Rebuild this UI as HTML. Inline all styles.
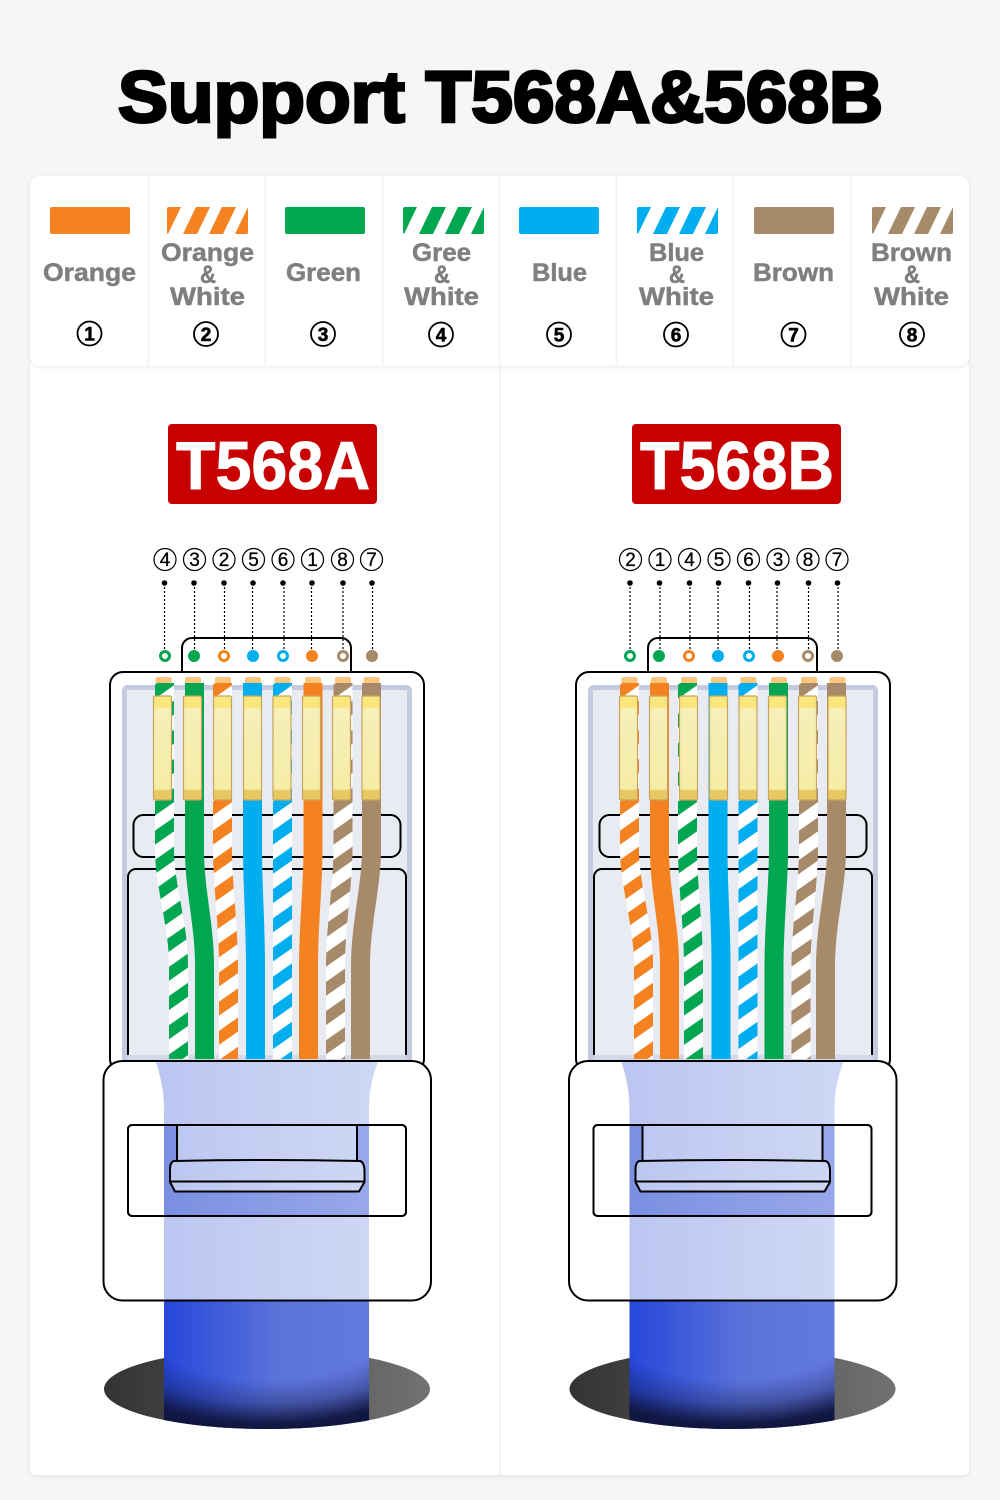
<!DOCTYPE html>
<html><head><meta charset="utf-8"><style>
html,body{margin:0;padding:0;background:#f6f6f6}
svg{display:block}
text{font-family:"Liberation Sans",sans-serif}
.l{font-size:25px;font-weight:bold;fill:#7f7f7f;stroke:#7f7f7f;stroke-width:.5}
.n{font-size:19px;font-weight:bold;text-anchor:middle;stroke:#000;stroke-width:.6}
.m{font-size:19px;text-anchor:middle;stroke:#000;stroke-width:.3}
</style></head><body>
<svg xmlns="http://www.w3.org/2000/svg" width="1000" height="1500" viewBox="0 0 1000 1500">
<defs>
<filter id="sh" x="-3%" y="-3%" width="106%" height="108%"><feDropShadow dx="0" dy="1" stdDeviation="2.5" flood-color="#000" flood-opacity=".09"/></filter>
<pattern id="pg" patternUnits="userSpaceOnUse" width="60" height="29.2" patternTransform="translate(0 692) skewY(-35)"><rect width="60" height="29.2" fill="#00a650"/><rect width="60" height="15.2" fill="#fff"/></pattern>
<pattern id="po" patternUnits="userSpaceOnUse" width="60" height="29.2" patternTransform="translate(0 692) skewY(-35)"><rect width="60" height="29.2" fill="#f58220"/><rect width="60" height="15.2" fill="#fff"/></pattern>
<pattern id="pb" patternUnits="userSpaceOnUse" width="60" height="29.2" patternTransform="translate(0 692) skewY(-35)"><rect width="60" height="29.2" fill="#00aeef"/><rect width="60" height="15.2" fill="#fff"/></pattern>
<pattern id="pn" patternUnits="userSpaceOnUse" width="60" height="29.2" patternTransform="translate(0 692) skewY(-35)"><rect width="60" height="29.2" fill="#a68a69"/><rect width="60" height="15.2" fill="#fff"/></pattern>
<clipPath id="swc"><rect width="81" height="27" rx="2"/></clipPath>
<g id="sw" clip-path="url(#swc)"><polygon points="-13,27 1,27 14,0 0,0"/><polygon points="16,27 30,27 43,0 29,0"/><polygon points="42,27 56,27 69,0 55,0"/><polygon points="68,27 82,27 95,0 81,0"/></g>
<path id="w1" d="M0 683V850C0 885 14 925 14 965V1059" fill="none" stroke-width="19"/>
<path id="w2" d="M0 683V850C0 890 10 925 10 965V1059" fill="none" stroke-width="19"/>
<path id="w3" d="M0 683V850C0 885 6 925 6 965V1059" fill="none" stroke-width="19"/>
<path id="w4" d="M0 683V850C0 885 3 925 3 965V1059" fill="none" stroke-width="19"/>
<path id="w5" d="M0 683V1059" fill="none" stroke-width="19"/>
<path id="w6" d="M0 683V850C0 885 -4.5 925 -4.5 965V1059" fill="none" stroke-width="19"/>
<path id="w7" d="M0 683V850C0 885 -7.5 925 -7.5 965V1059" fill="none" stroke-width="19"/>
<path id="w8" d="M0 683V850C0 885 -11 925 -11 965V1059" fill="none" stroke-width="19"/>
<g id="base">
<path d="M182 673V648a10 10 0 0 1 10-10H341a10 10 0 0 1 10 10V673" fill="#fff" stroke="#000" stroke-width="2"/>
<rect x="110" y="672" width="314" height="400" rx="13" fill="#fff" stroke="#000" stroke-width="2"/>
<rect x="124.500" y="687.500" width="285" height="380" rx="3" fill="#e9ebf3" stroke="#c6cadf" stroke-width="5"/>
<rect x="133.500" y="815" width="267" height="42" rx="10" fill="none" stroke="#000" stroke-width="2"/>
<path d="M128 1062V877a8 8 0 0 1 8-8H398a8 8 0 0 1 8 8V1062" fill="none" stroke="#000" stroke-width="2"/>
<rect x="127" y="1055" width="280" height="6" fill="#d5d8e8"/>
<g fill="#fcc67f"><rect x="155.500" y="677" width="16" height="7" rx="2"/><rect x="185" y="677" width="16" height="7" rx="2"/><rect x="215" y="677" width="16" height="7" rx="2"/><rect x="245" y="677" width="16" height="7" rx="2"/><rect x="274.500" y="677" width="16" height="7" rx="2"/><rect x="305" y="677" width="16" height="7" rx="2"/><rect x="335" y="677" width="16" height="7" rx="2"/><rect x="363.500" y="677" width="16" height="7" rx="2"/></g>
</g>
<linearGradient id="ct" x1="0" y1="0" x2="0" y2="1"><stop offset="0" stop-color="#f9e67c"/><stop offset=".11" stop-color="#f9e67c"/><stop offset=".12" stop-color="#f6efb8"/><stop offset=".88" stop-color="#f5eda6"/><stop offset=".89" stop-color="#f9f0b0"/><stop offset=".91" stop-color="#e7c964"/><stop offset="1" stop-color="#e7c964"/></linearGradient>
<g id="con" fill="url(#ct)" stroke="#c9a35f" stroke-width="1.200"><rect x="153.500" y="696" width="18" height="104" rx="1.500"/><rect x="183.500" y="696" width="18" height="104" rx="1.500"/><rect x="213.500" y="696" width="18" height="104" rx="1.500"/><rect x="243.500" y="696" width="18" height="104" rx="1.500"/><rect x="273" y="696" width="18" height="104" rx="1.500"/><rect x="302.500" y="696" width="18" height="104" rx="1.500"/><rect x="332.500" y="696" width="18" height="104" rx="1.500"/><rect x="362" y="696" width="18" height="104" rx="1.500"/></g>
<linearGradient id="lt" gradientUnits="userSpaceOnUse" x1="160" y1="0" x2="370" y2="0"><stop offset="0" stop-color="#bbc6f1"/><stop offset=".6" stop-color="#c8d1f3"/><stop offset="1" stop-color="#ced6f5"/></linearGradient>
<linearGradient id="md" gradientUnits="userSpaceOnUse" x1="164" y1="0" x2="369" y2="0"><stop offset="0" stop-color="#7a8fe1"/><stop offset="1" stop-color="#98a8ea"/></linearGradient>
<linearGradient id="dk" gradientUnits="userSpaceOnUse" x1="164" y1="0" x2="369" y2="0"><stop offset="0" stop-color="#2647da"/><stop offset=".55" stop-color="#5a72da"/><stop offset="1" stop-color="#6379e2"/></linearGradient>
<linearGradient id="el" gradientUnits="userSpaceOnUse" x1="104" y1="0" x2="430" y2="0"><stop offset="0" stop-color="#333"/><stop offset="1" stop-color="#727272"/></linearGradient>
<radialGradient id="sd" gradientUnits="userSpaceOnUse" cx="0" cy="0" r="1" gradientTransform="translate(267 1300) scale(230 130)"><stop offset="0" stop-color="#10153f" stop-opacity="0"/><stop offset=".62" stop-color="#10153f" stop-opacity="0"/><stop offset=".8" stop-color="#10153f" stop-opacity=".35"/><stop offset=".95" stop-color="#10153f" stop-opacity=".95"/><stop offset="1" stop-color="#10153f"/></radialGradient>
<clipPath id="bc"><rect x="164" y="1295" width="205" height="94"/><ellipse cx="267" cy="1389" rx="163" ry="40"/></clipPath>
<clipPath id="bcin"><rect x="164" y="1295" width="205" height="140"/></clipPath>
<g id="boot">
<ellipse cx="267" cy="1389" rx="163" ry="40" fill="url(#el)"/>
<g clip-path="url(#bcin)"><g clip-path="url(#bc)"><rect x="164" y="1295" width="205" height="140" fill="url(#dk)"/><rect x="164" y="1295" width="205" height="140" fill="url(#sd)"/></g></g>
<rect x="103.500" y="1061" width="327.500" height="239.500" rx="19" fill="#fff" stroke="#000" stroke-width="2"/>
<path d="M156 1062C160 1075 164 1090 164 1108V1299.500H369V1108C369 1090 373 1075 378 1062Z" fill="url(#lt)"/>
<rect x="128" y="1125" width="278" height="91" rx="4" fill="#fff" stroke="#000" stroke-width="2"/>
<rect x="164" y="1126" width="205" height="89" fill="url(#md)"/>
<rect x="128" y="1125" width="278" height="91" rx="4" fill="none" stroke="#000" stroke-width="2"/>
<path d="M177 1125V1161H357V1125Z" fill="url(#lt)" stroke="#000" stroke-width="2"/>
<path d="M174 1161Q267 1159 360 1161Q364 1162 364.500 1170V1182L359 1191.500H175L170 1182V1170Q170 1162 174 1161Z" fill="url(#lt)" stroke="#000" stroke-width="2" stroke-linejoin="round"/>
<path d="M170 1181.500H364.500" stroke="#000" stroke-width="2" fill="none"/>
</g>
<g id="dots"><circle cx="164.500" cy="583" r="2.800"/><circle cx="194" cy="583" r="2.800"/><circle cx="224" cy="583" r="2.800"/><circle cx="253" cy="583" r="2.800"/><circle cx="283" cy="583" r="2.800"/><circle cx="312" cy="583" r="2.800"/><circle cx="343" cy="583" r="2.800"/><circle cx="372" cy="583" r="2.800"/>
<path d="M164.500 583V650M194.500 583V650M224.500 583V650M252.500 583V650M284 583V650M311.500 583V650M343 583V650M372.500 583V650" stroke="#000" stroke-width="1.200" stroke-dasharray="2 2" fill="none"/></g>
<g id="circ" fill="#fff" stroke="#000" stroke-width="1.200"><circle cx="165" cy="559.500" r="11"/><circle cx="194.500" cy="559.500" r="11"/><circle cx="224" cy="559.500" r="11"/><circle cx="253.500" cy="559.500" r="11"/><circle cx="283" cy="559.500" r="11"/><circle cx="312.500" cy="559.500" r="11"/><circle cx="342.500" cy="559.500" r="11"/><circle cx="371.500" cy="559.500" r="11"/></g>
</defs>

<rect width="1000" height="1500" fill="#f6f6f6"/>
<text x="118" y="122" font-size="72" font-weight="bold" fill="#000" stroke="#000" stroke-width="3" textLength="765" lengthAdjust="spacingAndGlyphs">Support T568A&amp;568B</text>

<rect x="30" y="360" width="939" height="1115" rx="6" fill="#fff" filter="url(#sh)"/>
<rect x="499" y="366" width="2" height="1109" fill="#f3f3f3"/>
<rect x="30" y="176" width="939" height="190" rx="10" fill="#fff" filter="url(#sh)"/>
<g fill="#f3f3f3"><rect x="147.500" y="176" width="2" height="190"/><rect x="264.500" y="176" width="2" height="190"/><rect x="381.500" y="176" width="2" height="190"/><rect x="498.500" y="176" width="2" height="190"/><rect x="615.500" y="176" width="2" height="190"/><rect x="732.500" y="176" width="2" height="190"/><rect x="849.500" y="176" width="2" height="190"/></g>

<rect x="50" y="207" width="80" height="27" rx="2" fill="#f58220"/>
<use href="#sw" transform="translate(167 207)" fill="#f58220"/>
<rect x="285" y="207" width="80" height="27" rx="2" fill="#00a650"/>
<use href="#sw" transform="translate(403 207)" fill="#00a650"/>
<rect x="519" y="207" width="80" height="27" rx="2" fill="#00aeef"/>
<use href="#sw" transform="translate(637 207)" fill="#00aeef"/>
<rect x="754" y="207" width="80" height="27" rx="2" fill="#a68a69"/>
<use href="#sw" transform="translate(872 207)" fill="#a68a69"/>

<text class="l" x="43" y="281" textLength="93" lengthAdjust="spacingAndGlyphs">Orange</text>
<text class="l" x="161" y="261" textLength="93" lengthAdjust="spacingAndGlyphs">Orange</text>
<text class="l" x="200" y="283" textLength="16" lengthAdjust="spacingAndGlyphs">&amp;</text>
<text class="l" x="170" y="305" textLength="75" lengthAdjust="spacingAndGlyphs">White</text>
<text class="l" x="286" y="281" textLength="75" lengthAdjust="spacingAndGlyphs">Green</text>
<text class="l" x="412" y="261" textLength="59" lengthAdjust="spacingAndGlyphs">Gree</text>
<text class="l" x="434" y="283" textLength="16" lengthAdjust="spacingAndGlyphs">&amp;</text>
<text class="l" x="404" y="305" textLength="75" lengthAdjust="spacingAndGlyphs">White</text>
<text class="l" x="532" y="281" textLength="55" lengthAdjust="spacingAndGlyphs">Blue</text>
<text class="l" x="649" y="261" textLength="55" lengthAdjust="spacingAndGlyphs">Blue</text>
<text class="l" x="669" y="283" textLength="16" lengthAdjust="spacingAndGlyphs">&amp;</text>
<text class="l" x="639" y="305" textLength="75" lengthAdjust="spacingAndGlyphs">White</text>
<text class="l" x="753" y="281" textLength="81" lengthAdjust="spacingAndGlyphs">Brown</text>
<text class="l" x="871" y="261" textLength="81" lengthAdjust="spacingAndGlyphs">Brown</text>
<text class="l" x="904" y="283" textLength="16" lengthAdjust="spacingAndGlyphs">&amp;</text>
<text class="l" x="874" y="305" textLength="75" lengthAdjust="spacingAndGlyphs">White</text>

<g fill="#fff" stroke="#000" stroke-width="1.800"><circle cx="89.500" cy="333.500" r="12"/><circle cx="206" cy="334" r="12"/><circle cx="323" cy="334" r="12"/><circle cx="441" cy="334.500" r="12"/><circle cx="559" cy="334.500" r="12"/><circle cx="676" cy="334.500" r="12"/><circle cx="793.500" cy="334.500" r="12"/><circle cx="912" cy="334.500" r="12"/></g>
<text class="n" x="89.500" y="340.500">1</text><text class="n" x="206" y="341">2</text><text class="n" x="323" y="341">3</text><text class="n" x="441" y="341.500">4</text><text class="n" x="559" y="341.500">5</text><text class="n" x="676" y="341.500">6</text><text class="n" x="793.500" y="341.500">7</text><text class="n" x="912" y="341.500">8</text>

<rect x="168" y="424" width="209" height="80" rx="4" fill="#c80000"/>
<text x="176" y="489" font-size="68" font-weight="bold" fill="#fff" stroke="#fff" stroke-width="1" textLength="194" lengthAdjust="spacingAndGlyphs">T568A</text>
<rect x="632" y="424" width="209" height="80" rx="4" fill="#c80000"/>
<text x="640" y="489" font-size="68" font-weight="bold" fill="#fff" stroke="#fff" stroke-width="1" textLength="194" lengthAdjust="spacingAndGlyphs">T568B</text>

<!-- T568A -->
<use href="#circ"/>
<text class="m" x="165" y="566">4</text><text class="m" x="194.500" y="566">3</text><text class="m" x="224" y="566">2</text><text class="m" x="253.500" y="566">5</text><text class="m" x="283" y="566">6</text><text class="m" x="312.500" y="566">1</text><text class="m" x="342.500" y="566">8</text><text class="m" x="371.500" y="566">7</text>
<use href="#base"/>
<use href="#dots"/>
<circle cx="165" cy="656" r="4.500" fill="#fff" stroke="#00a650" stroke-width="3"/><circle cx="194" cy="656" r="6" fill="#00a650"/><circle cx="224" cy="656" r="4.500" fill="#fff" stroke="#f58220" stroke-width="3"/><circle cx="253" cy="656" r="6" fill="#00aeef"/><circle cx="283" cy="656" r="4.500" fill="#fff" stroke="#00aeef" stroke-width="3"/><circle cx="312" cy="656" r="6" fill="#f58220"/><circle cx="343" cy="656" r="4.500" fill="#fff" stroke="#a68a69" stroke-width="3"/><circle cx="372" cy="656" r="6" fill="#a68a69"/>
<use href="#w1" x="164.500" stroke="url(#pg)"/>
<use href="#w2" x="194.500" stroke="#00a650"/>
<use href="#w3" x="222.500" stroke="url(#po)"/>
<use href="#w4" x="252.500" stroke="#00aeef"/>
<use href="#w5" x="282.500" stroke="url(#pb)"/>
<use href="#w6" x="313" stroke="#f58220"/>
<use href="#w7" x="343" stroke="url(#pn)"/>
<use href="#w8" x="371.500" stroke="#a68a69"/>
<use href="#con"/>
<use href="#boot"/>

<!-- T568B -->
<use href="#circ" x="465.500"/>
<text class="m" x="630.500" y="566">2</text><text class="m" x="660" y="566">1</text><text class="m" x="689.500" y="566">4</text><text class="m" x="719" y="566">5</text><text class="m" x="748.500" y="566">6</text><text class="m" x="778" y="566">3</text><text class="m" x="808" y="566">8</text><text class="m" x="837" y="566">7</text>
<use href="#base" x="466"/>
<use href="#dots" x="465.500"/>
<circle cx="630" cy="656" r="4.500" fill="#fff" stroke="#00a650" stroke-width="3"/><circle cx="659" cy="656" r="6" fill="#00a650"/><circle cx="689" cy="656" r="4.500" fill="#fff" stroke="#f58220" stroke-width="3"/><circle cx="718" cy="656" r="6" fill="#00aeef"/><circle cx="749" cy="656" r="4.500" fill="#fff" stroke="#00aeef" stroke-width="3"/><circle cx="778" cy="656" r="6" fill="#f58220"/><circle cx="808" cy="656" r="4.500" fill="#fff" stroke="#a68a69" stroke-width="3"/><circle cx="837" cy="656" r="6" fill="#a68a69"/>
<use href="#w1" x="629.500" stroke="url(#po)"/>
<use href="#w2" x="659.500" stroke="#f58220"/>
<use href="#w3" x="687.500" stroke="url(#pg)"/>
<use href="#w4" x="718" stroke="#00aeef"/>
<use href="#w5" x="748" stroke="url(#pb)"/>
<use href="#w6" x="778.500" stroke="#00a650"/>
<use href="#w7" x="808.500" stroke="url(#pn)"/>
<use href="#w8" x="836.500" stroke="#a68a69"/>
<use href="#con" x="466"/>
<use href="#boot" x="465.500"/>
</svg>
</body></html>
